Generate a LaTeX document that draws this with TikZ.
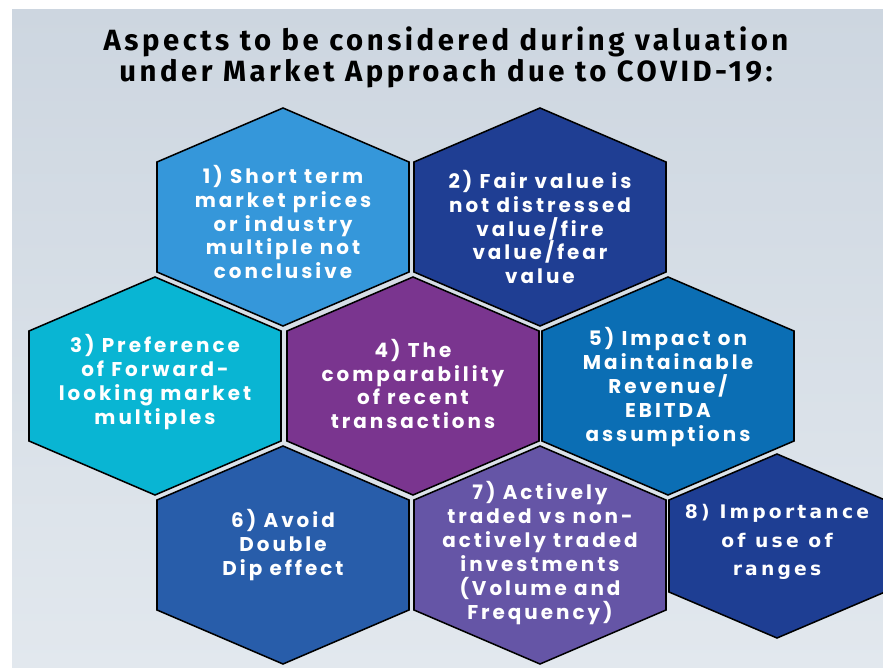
\documentclass[tikz,border=0pt]{standalone}
\usepackage{fontspec}
\setmainfont{Poppins}
\newfontfamily\titlefont{Fira Sans}[LetterSpace=12]
\newfontfamily\hexfont{Poppins}[LetterSpace=15]
\newfontfamily\rangefont{DejaVu Sans}[LetterSpace=17]
\usetikzlibrary{positioning}

\definecolor{bgtop}{RGB}{205,214,224}
\definecolor{bgbot}{RGB}{226,232,238}
\definecolor{hexA}{RGB}{53,151,218}
\definecolor{hexB}{RGB}{31,62,147}
\definecolor{hexC}{RGB}{9,181,211}
\definecolor{hexD}{RGB}{122,53,143}
\definecolor{hexE}{RGB}{11,110,180}
\definecolor{hexF}{RGB}{40,93,170}
\definecolor{hexG}{RGB}{101,85,166}
\definecolor{hexH}{RGB}{30,62,147}

\begin{document}
\begin{tikzpicture}[x=0.03cm, y=-0.03cm,
    hexline/.style={draw=black, line width=1.3pt, line join=miter},
    hextext/.style={text=white, align=center,
      font=\hexfont\bfseries\fontsize{17}{20.4}\selectfont},
    rangetext/.style={text=white, align=center,
      font=\rangefont\bfseries\fontsize{16}{24.6}\selectfont},
    heading/.style={align=center,
      font=\titlefont\bfseries\fontsize{25}{26.4}\selectfont}]

  \useasboundingbox (0,0) rectangle (883,668);
  \shade[top color=bgtop, bottom color=bgbot] (12,9) rectangle (883,668);

  \node[heading] (title) at (446,57)
    {Aspects to be considered during valuation\\under Market Approach due to COVID-19:};

  % honeycomb: name/centre x/centre y/half width/half height/corner/colour
  \foreach \n/\cx/\cy/\w/\h/\k/\col in {
      1/283/217/126/109/54/hexA, 2/540/217/126/109/54/hexB,
      3/155/386/126/109/54/hexC, 4/413/386/126/109/54/hexD,
      5/668/386/126/109/54/hexE, 6/283/555/126/109/54/hexF,
      7/540/555/126/109/54/hexG, 8/777/546/108/92/46/hexH} {
    \draw[hexline, fill=\col] (\cx,\cy) ++(0,-\h) -- ++(\w,\k)
      -- ++(0,{2*(\h-\k)}) -- ++(-\w,\k) -- ++(-\w,-\k)
      -- ++(0,{-2*(\h-\k)}) -- cycle;
    \coordinate (c\n) at (\cx,\cy);
  }

  \node[hextext] (short) at (283,222) {1) Short term\\market prices\\or industry\\multiple not\\conclusive};
  \node[hextext] (fair) at (540,227) {2) Fair value is\\not distressed\\value/fire\\value/fear\\value};
  \node[hextext] (forward) at (155,382) {3) Preference\\of Forward-\\looking market\\multiples};
  \node[hextext] (recent) at (413,384) {4) The\\comparability\\of recent\\transactions};
  \node[hextext] (ebitda) at (668,387) {5) Impact on\\Maintainable\\Revenue/\\EBITDA\\assumptions};
  \node[hextext] (dip) at (283,545) {6) Avoid\\Double\\Dip effect};
  \node[hextext] (traded) at (540,553) {7) Actively\\traded vs non-\\actively traded\\investments\\(Volume and\\Frequency)};
  \node[rangetext] (ranges) at (777,542) {8) Importance\\of use of\\ranges};
\end{tikzpicture}
\end{document}
